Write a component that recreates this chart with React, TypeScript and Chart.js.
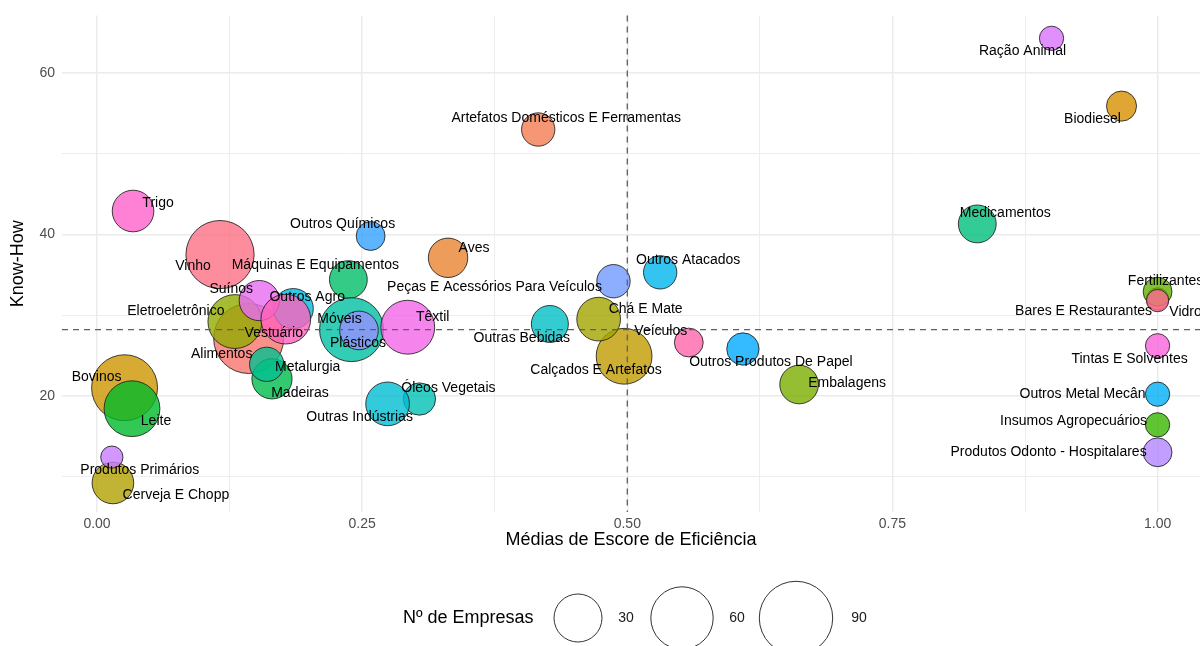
import React, { useEffect, useRef } from "react";
import { Chart, registerables } from "chart.js";

Chart.register(...registerables);

// ---------- data ----------
const categories: string[] = [
  "Alimentos",
  "Artefatos Domésticos E Ferramentas",
  "Aves",
  "Bares E Restaurantes",
  "Biodiesel",
  "Bovinos",
  "Calçados E Artefatos",
  "Cerveja E Chopp",
  "Chá E Mate",
  "Eletroeletrônico",
  "Embalagens",
  "Fertilizantes",
  "Insumos Agropecuários",
  "Leite",
  "Madeiras",
  "Máquinas E Equipamentos",
  "Medicamentos",
  "Metalurgia",
  "Móveis",
  "Óleos Vegetais",
  "Outras Bebidas",
  "Outras Indústrias",
  "Outros Agro",
  "Outros Atacados",
  "Outros Metal Mecân",
  "Outros Produtos De Papel",
  "Outros Químicos",
  "Peças E Acessórios Para Veículos",
  "Plásticos",
  "Produtos Odonto - Hospitalares",
  "Produtos Primários",
  "Ração Animal",
  "Suínos",
  "Têxtil",
  "Tintas E Solventes",
  "Trigo",
  "Vestuário",
  "Veículos",
  "Vidro",
  "Vinho",
];

const efficiency: number[] = [
  0.143, 0.416, 0.331, 1.0, 0.966, 0.026, 0.497, 0.015, 0.473, 0.13,
  0.662, 1.0, 1.0, 0.033, 0.165, 0.237, 0.83, 0.16, 0.24, 0.304,
  0.427, 0.274, 0.185, 0.531, 1.0, 0.609, 0.258, 0.487, 0.247, 1.0,
  0.014, 0.9, 0.153, 0.293, 1.0, 0.034, 0.178, 0.558, 1.0, 0.116,
];

const knowHow: number[] = [
  27.1, 53.0, 37.1, 32.0, 55.9, 21.0, 24.9, 9.2, 29.5, 29.2,
  21.4, 32.9, 16.4, 18.4, 22.1, 34.4, 41.3, 23.9, 28.2, 19.6,
  28.9, 19.0, 30.8, 35.3, 20.2, 25.8, 39.8, 34.2, 28.1, 13.0,
  12.4, 64.3, 31.8, 28.5, 26.2, 42.9, 29.5, 26.6, 31.8, 37.5,
];

const firms: number[] = [
  80, 10, 17, 2, 7, 69, 45, 20, 23, 41,
  16, 6, 3, 45, 18, 15, 15, 11, 64, 9,
  14, 23, 18, 10, 3, 9, 6, 10, 16, 6,
  2, 3, 18, 41, 3, 20, 33, 6, 2, 75,
];

const xTicks: number[] = [0, 0.125, 0.25, 0.375, 0.5, 0.625, 0.75, 0.875, 1];
const xTickLabels: number[] = [0, 0.25, 0.5, 0.75, 1];
const yTicks: number[] = [10, 20, 30, 40, 50, 60];
const yTickLabels: number[] = [20, 40, 60];
const refX = 0.5;
const refY = 28.2;
const legendBreaks: number[] = [30, 60, 90];
const sizeTitle = "Nº de Empresas";
const xTitle = "Médias de Escore de Eficiência";
const yTitle = "Know-How";

// ---------- styles ----------
// label offsets (px) from the bubble centre, as placed by the repel layout
const labelOffsets: [number, number][] = [
  [-27, 16], [28, -11], [26, -10], [-74, 12], [-29, 13], [-28, -11], [-28, 14], [63, 12], [47, -10], [-59, -10],
  [48, -1], [8, -11], [-84, -4], [24, 12], [28, 14], [-33, -14], [28, -11], [41, 3], [-12, -10], [29, -11],
  [-28, 14], [-28, 13], [14, -12], [28, -12], [-75, 0], [28, 13], [-28, -12], [-119, 6], [-1, 13], [-109, 0],
  [28, 13], [-29, 13], [-28, -11], [25, -10], [-28, 13], [25, -8], [-12, 14], [-28, -11], [28, 12], [-27, 12],
];
const legendLayout = { titleX: 403, y: 618, keyX: [578, 682, 796], textX: [626, 737, 859] };
const FONT = "'Liberation Sans', Arial, Helvetica, sans-serif";

function hcl(h: number, c: number, l: number): [number, number, number] {
  const hr = (h * Math.PI) / 180;
  const U = c * Math.cos(hr);
  const V = c * Math.sin(hr);
  const Xn = 95.047, Yn = 100.0, Zn = 108.883;
  const un = (4 * Xn) / (Xn + 15 * Yn + 3 * Zn);
  const vn = (9 * Yn) / (Xn + 15 * Yn + 3 * Zn);
  const Y = l > 8 ? Yn * Math.pow((l + 16) / 116, 3) : (Yn * l) / 903.3;
  const u = U / (13 * l) + un;
  const v = V / (13 * l) + vn;
  const X = (9 * Y * u) / (4 * v);
  const Z = -X / 3 - 5 * Y + (3 * Y) / v;
  const x = X / 100, y = Y / 100, z = Z / 100;
  const lin = [
    3.240479 * x - 1.53715 * y - 0.498535 * z,
    -0.969256 * x + 1.875992 * y + 0.041556 * z,
    0.055648 * x - 0.204043 * y + 1.057311 * z,
  ];
  return lin.map((cc) => {
    const g = cc <= 0.0031308 ? 12.92 * cc : 1.055 * Math.pow(cc, 1 / 2.4) - 0.055;
    return Math.round(Math.min(1, Math.max(0, g)) * 255);
  }) as [number, number, number];
}

const palette = categories.map((_, i) => hcl(15 + (i * 360) / categories.length, 100, 65));

function radius(n: number): number {
  return 6.64 + 3.17 * Math.sqrt(n);
}

const overlayPlugin = {
  id: "overlay",
  afterDatasetsDraw(chart: any) {
    const { ctx, chartArea, scales } = chart;
    const xs = scales.x, ys = scales.y;
    ctx.save();
    // reference lines
    ctx.strokeStyle = "#5f5f5f";
    ctx.lineWidth = 1.3;
    ctx.setLineDash([6, 5]);
    const px = xs.getPixelForValue(refX);
    ctx.beginPath();
    ctx.moveTo(px, chartArea.top);
    ctx.lineTo(px, chartArea.bottom);
    ctx.stroke();
    const py = ys.getPixelForValue(refY);
    ctx.beginPath();
    ctx.moveTo(chartArea.left, py);
    ctx.lineTo(chartArea.right, py);
    ctx.stroke();
    ctx.setLineDash([]);
    // labels
    ctx.fillStyle = "#000000";
    ctx.font = `14px ${FONT}`;
    ctx.textAlign = "center";
    ctx.textBaseline = "middle";
    categories.forEach((name, i) => {
      const x = xs.getPixelForValue(efficiency[i]) + labelOffsets[i][0];
      const y = ys.getPixelForValue(knowHow[i]) + labelOffsets[i][1];
      ctx.fillText(name, x, y);
    });
    ctx.restore();
  },
  afterDraw(chart: any) {
    const { ctx, chartArea } = chart;
    ctx.save();
    ctx.fillStyle = "#000000";
    ctx.font = `18px ${FONT}`;
    ctx.textBaseline = "middle";
    ctx.textAlign = "center";
    ctx.fillText(xTitle, (chartArea.left + chartArea.right) / 2, 540);
    ctx.save();
    ctx.translate(18, (chartArea.top + chartArea.bottom) / 2);
    ctx.rotate(-Math.PI / 2);
    ctx.fillText(yTitle, 0, 0);
    ctx.restore();
    // size legend
    ctx.textAlign = "left";
    ctx.fillText(sizeTitle, legendLayout.titleX, legendLayout.y);
    legendBreaks.forEach((b, i) => {
      ctx.beginPath();
      ctx.arc(legendLayout.keyX[i], legendLayout.y, radius(b), 0, Math.PI * 2);
      ctx.strokeStyle = "#333333";
      ctx.lineWidth = 1;
      ctx.stroke();
      ctx.font = `14px ${FONT}`;
      ctx.textAlign = "center";
      ctx.fillStyle = "#1A1A1A";
      ctx.fillText(String(b), legendLayout.textX[i], legendLayout.y);
    });
    ctx.restore();
  },
};

export default function App() {
  const canvasRef = useRef<HTMLCanvasElement | null>(null);

  useEffect(() => {
    if (!canvasRef.current) return;
    const gridColor = "#EBEBEB";
    const chart = new Chart(canvasRef.current, {
      type: "bubble",
      data: {
        datasets: [
          {
            label: "setores",
            data: categories.map((_, i) => ({ x: efficiency[i], y: knowHow[i], r: radius(firms[i]) })),
            backgroundColor: palette.map(([r, g, b]) => `rgba(${r},${g},${b},0.8)`),
            borderColor: "rgba(30,30,30,0.85)",
            borderWidth: 1,
            clip: false as any,
          },
        ],
      },
      options: {
        responsive: false,
        animation: false,
        devicePixelRatio: 1,
        layout: { autoPadding: false, padding: { top: 12, right: 0, bottom: 0, left: 0 } },
        plugins: { legend: { display: false }, tooltip: { enabled: false } },
        scales: {
          x: {
            type: "linear",
            min: -0.033,
            max: 1.04,
            afterBuildTicks: (s: any) => {
              s.ticks = xTicks.map((v) => ({ value: v }));
            },
            afterFit: (s: any) => {
              s.height = 134;
            },
            border: { display: false },
            grid: {
              drawTicks: false,
              color: gridColor,
              lineWidth: (c: any) => (xTickLabels.includes(c.tick?.value) ? 1.5 : 0.9),
            },
            ticks: {
              autoSkip: false,
              maxRotation: 0,
              padding: 4,
              color: "#4D4D4D",
              font: { family: FONT, size: 14 },
              callback: (v: any) => (xTickLabels.includes(Number(v)) ? Number(v).toFixed(2) : ""),
            },
          },
          y: {
            type: "linear",
            min: 5.6,
            max: 67.14,
            afterBuildTicks: (s: any) => {
              s.ticks = yTicks.map((v) => ({ value: v }));
            },
            afterFit: (s: any) => {
              s.width = 62;
            },
            border: { display: false },
            grid: {
              drawTicks: false,
              color: gridColor,
              lineWidth: (c: any) => (yTickLabels.includes(c.tick?.value) ? 1.5 : 0.9),
            },
            ticks: {
              autoSkip: false,
              padding: 7,
              color: "#4D4D4D",
              font: { family: FONT, size: 14 },
              callback: (v: any) => (yTickLabels.includes(Number(v)) ? String(v) : ""),
            },
          },
        },
      },
      plugins: [overlayPlugin],
    });
    return () => chart.destroy();
  }, []);

  return (
    <div style={{ position: "absolute", left: 0, top: 0, width: 1200, height: 646, background: "#ffffff" }}>
      <canvas ref={canvasRef} width={1200} height={646} style={{ display: "block" }} />
    </div>
  );
}
